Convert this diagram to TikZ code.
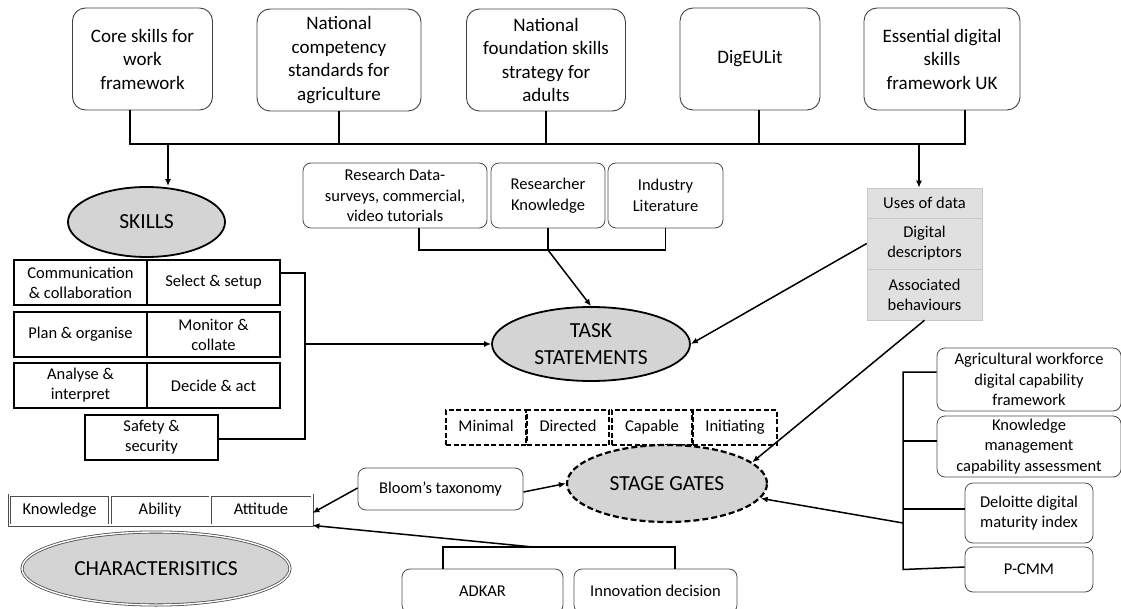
\documentclass[tikz,border=0pt]{standalone}
\usepackage{fontspec}
\setmainfont{Carlito}
\usetikzlibrary{shapes.geometric,arrows.meta}

\begin{document}
\begin{tikzpicture}[
   x=1pt,y=-1pt,
   every node/.style={align=center,inner sep=0pt},
   src/.style={draw=black!75,line width=0.9pt,rounded corners=13pt,minimum height=102pt,font=\fontsize{19}{23.5}\selectfont},
   info/.style={draw=black!70,line width=0.8pt,rounded corners=8pt,font=\fontsize{16.5}{20.5}\selectfont},
   cell/.style={draw,line width=2.2pt,minimum width=133pt,minimum height=45pt,font=\fontsize{16.5}{20}\selectfont},
   use/.style={draw=black!22,fill=black!12,line width=0.6pt,minimum width=115pt,font=\fontsize{16.5}{20}\selectfont},
   gate/.style={draw,line width=2.6pt,dash pattern=on 5pt off 2.5pt,minimum height=35pt,text height=12pt,text depth=3.5pt,font=\fontsize{16.5}{20}\selectfont},
   trait/.style={draw=black!70,double,double distance=1.4pt,line width=0.8pt,minimum height=30pt,text height=12pt,text depth=3.5pt,font=\fontsize{16.5}{20}\selectfont},
   oval/.style={ellipse,draw,fill=black!17,line width=1.8pt,font=\fontsize{21.5}{27}\selectfont},
   to/.style={-{Latex[length=7pt,width=6pt]},line width=1.5pt},
   link/.style={line width=1.5pt}]
\useasboundingbox (0,0) rectangle (1121,609);

% frameworks on top
\node[src,minimum width=140pt] (core) at (142.5,59) {Core skills for\\work\\framework};
\node[src,minimum width=164pt] (ncs) at (339,60) {National\\competency\\standards for\\agriculture};
\node[src,minimum width=159pt] (nfs) at (546,60) {National\\foundation skills\\strategy for\\adults};
\node[src,minimum width=140pt] (dig) at (750,59) {DigEULit};
\node[src,minimum width=156pt] (eds) at (942,59) {Essential digital\\skills\\framework UK};

% skills
\node[oval,minimum width=157pt,minimum height=70pt] (skills) at (146.5,222) {SKILLS};
\node[cell] (comm) at (80.5,282.5) {Communication\\\& collaboration};
\node[cell] (sel) at (213.5,282.5) {Select \& setup};
\node[cell] (plan) at (80.5,334.5) {Plan \& organise};
\node[cell] (mon) at (213.5,334.5) {Monitor \&\\collate};
\node[cell] (ana) at (80.5,385.5) {Analyse \&\\interpret};
\node[cell] (dec) at (213.5,385.5) {Decide \& act};
\node[cell] (safe) at (151.5,437.5) {Safety \&\\security};

% research inputs
\node[info,minimum width=184pt,minimum height=65pt] (rdata) at (395,195.5) {Research Data-\\surveys, commercial,\\video tutorials};
\node[info,minimum width=114pt,minimum height=65pt] (rknow) at (548,195.5) {Researcher\\Knowledge};
\node[info,minimum width=115pt,minimum height=65pt] (rlit) at (665.5,195.5) {Industry\\Literature};
\node[oval,minimum width=198pt,minimum height=74pt] (task) at (591,344) {TASK\\STATEMENTS};

% uses of data
\node[use,minimum height=30pt] (use1) at (924.5,203) {Uses of data};
\node[use,minimum height=51pt] (use2) at (924.5,243.5) {Digital\\descriptors};
\node[use,minimum height=51pt] (use3) at (924.5,294.5) {Associated\\behaviours};

% stage gates
\node[gate,minimum width=80pt] (min) at (486,427.5) {Minimal};
\node[gate,minimum width=82pt] (dir) at (568,427.5) {Directed};
\node[gate,minimum width=80pt] (cap) at (652,427.5) {Capable};
\node[gate,minimum width=84pt] (ini) at (735,427.5) {Initiating};
\node[oval,line width=2.2pt,dash pattern=on 6pt off 3pt,minimum width=200pt,minimum height=77pt] (stage) at (667,483.5) {STAGE GATES};
\node[info,minimum width=165pt,minimum height=42pt] (bloom) at (440.5,489) {Bloom’s taxonomy};

% capability models
\node[info,minimum width=184pt,minimum height=63pt] (agri) at (1029,379.5) {Agricultural workforce\\digital capability\\framework};
\node[info,minimum width=184pt,minimum height=61pt] (kmca) at (1029,446.5) {Knowledge\\management\\capability assessment};
\node[info,minimum width=128pt,minimum height=60pt] (ddmi) at (1029,513) {Deloitte digital\\maturity index};
\node[info,minimum width=128pt,minimum height=45pt] (pcmm) at (1029,569.5) {P-CMM};

% characteristics
\node[trait,minimum width=100pt] (know) at (59.5,510) {Knowledge};
\node[trait,minimum width=100pt] (abil) at (160,510) {Ability};
\node[trait,minimum width=102pt] (att) at (261,510) {Attitude};
\node[oval,draw=black!70,double,double distance=1.4pt,line width=0.8pt,minimum width=268pt,minimum height=73pt] (chars) at (156,568.5) {CHARACTERISITICS};
\node[info,minimum width=161pt,minimum height=44pt] (adkar) at (482.5,591) {ADKAR};
\node[info,minimum width=163pt,minimum height=44pt] (innov) at (655.5,591) {Innovation decision};

% connectors
\coordinate (b1) at (130,144);
\coordinate (b4) at (759,144);
\coordinate (b5) at (965,144);
\coordinate (d1) at (168,144);
\coordinate (d2) at (919,144);
\draw[link] (core.south -| b1) -- (b1) -- (b5) -- (eds.south -| b5);
\draw[link] (ncs.south) -- (ncs.south |- b1);
\draw[link] (nfs.south) -- (nfs.south |- b1);
\draw[link] (dig.south -| b4) -- (b4);
\draw[to] (d1) -- (d1 |- skills.north);
\draw[to] (d2) -- (d2 |- use1.north);

\coordinate (s1) at (305,344);
\draw[link] ([yshift=9.5pt]sel.east) -| (s1) |- ([yshift=-1.5pt]safe.east);
\draw[to] (s1) -- (task.west);

\coordinate (r1) at (419,250);
\draw[link] (rdata.south -| r1) -- (r1) -- (r1 -| rlit.south) -- (rlit.south);
\draw[link] (rknow.south) -- (rknow.south |- r1);
\draw[to] (rknow.south |- r1) -- (task.north);
\draw[to] (use2.west) -- (task.east);
\draw[to] (use3.south) -- (stage.14);

\coordinate (f1) at (903,523);
\draw[link] ([yshift=7.5pt]agri.west) -| (f1 |- pcmm.west) -- ([yshift=2.5pt]pcmm.west);
\draw[link] ([yshift=5.5pt]kmca.west) -- ([yshift=5.5pt]kmca.west -| f1);
\draw[link] ([yshift=4pt]ddmi.west) -- ([yshift=4pt]ddmi.west -| f1);
\draw[to] (f1) -- (stage.351);

\draw[to] ([yshift=-3pt]bloom.east) -- (stage.west);
\draw[to] ([yshift=1pt]bloom.west) -- ([yshift=-3pt]att.east);

\coordinate (k1) at (443,547);
\coordinate (k2) at (675,547);
\coordinate (k3) at (533,547);
\draw[link] (adkar.north -| k1) -- (k1) -- (k2) -- (innov.north -| k2);
\draw[to] (k3) -- (att.south east);
\end{tikzpicture}
\end{document}
